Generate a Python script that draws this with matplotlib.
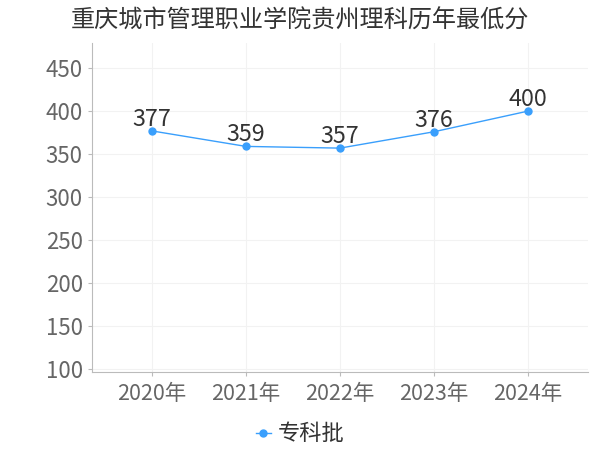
import matplotlib
matplotlib.use("Agg")
import matplotlib.pyplot as plt

plt.rcParams['font.family'] = ['Noto Sans CJK SC', 'DejaVu Sans']

title = "重庆城市管理职业学院贵州理科历年最低分"
years = ["2020年", "2021年", "2022年", "2023年", "2024年"]
scores = [377, 359, 357, 376, 400]
series_name = "专科批"
yticks = [100, 150, 200, 250, 300, 350, 400, 450]

line_color = "#3a9ffc"

fig = plt.figure(figsize=(6, 4.5), dpi=100)
ax = fig.add_axes([0.153, 0.173, 0.827, 0.731])

x = list(range(len(years)))
ax.plot(x, scores, color=line_color, lw=1, marker='o', markersize=5, label=series_name)
for xi, v in zip(x, scores):
    ax.annotate(str(v), (xi, v), xytext=(0, 0), textcoords='offset points',
                ha='center', va='bottom', fontsize=16.8, color='#333333')

ax.set_xlim(-0.64, 4.64)
ax.set_ylim(96.5, 479)
ax.set_xticks(x)
ax.set_xticklabels(years)
ax.set_yticks(yticks)
ax.tick_params(axis='both', labelcolor='#666666', color='#bbbbbb', length=3)
ax.tick_params(axis='y', labelsize=16)
ax.tick_params(axis='x', labelsize=15.5, pad=5)
ax.grid(True, color='#f2f2f2', lw=0.8)
ax.set_axisbelow(True)
for s in ['top', 'right']:
    ax.spines[s].set_visible(False)
for s in ['left', 'bottom']:
    ax.spines[s].set_color('#bbbbbb')

fig.text(0.5, 0.955, title, ha='center', va='center', fontsize=17.4, color='#333333')

fig.legend(loc='center', bbox_to_anchor=(0.5, 0.036), frameon=False, fontsize=16,
           handlelength=0.7, handletextpad=0.3, labelcolor='#333333')

fig.savefig("out.png", dpi=100)
